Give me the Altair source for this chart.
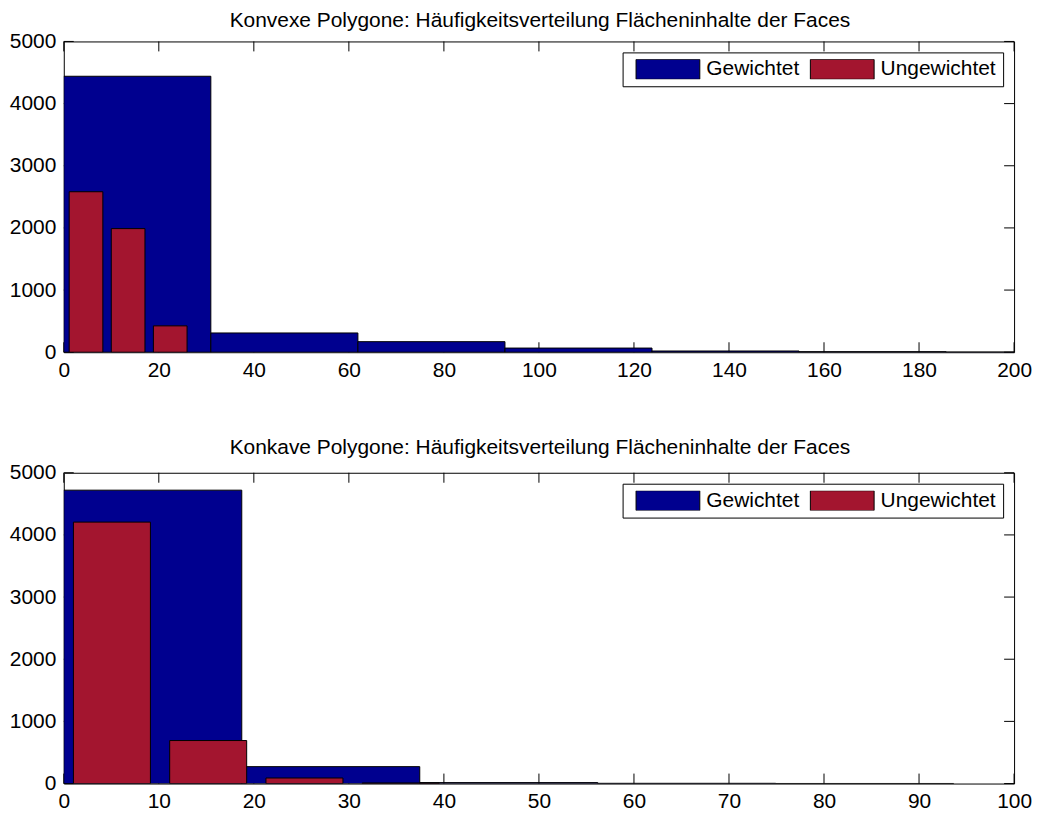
import altair as alt
import pandas as pd

BLUE = "#00008F"
RED = "#A3152F"
FONT = "Liberation Sans"
FS = 21

series = ["Gewichtet", "Ungewichtet"]

top_title = "Konvexe Polygone: Häufigkeitsverteilung Flächeninhalte der Faces"
bot_title = "Konkave Polygone: Häufigkeitsverteilung Flächeninhalte der Faces"

# top panel (convex)
top_blue_start = 0.0
top_blue_width = 30.95
top_blue_counts = [4440, 310, 170, 67, 20, 9, 3]
top_red_start = 0.25
top_red_width = 8.86
top_red_counts = [2582, 1989, 424]
top_xticks = [0, 20, 40, 60, 80, 100, 120, 140, 160, 180, 200]
top_xmax = 200

# bottom panel (concave)
bot_blue_start = 0.0
bot_blue_width = 18.73
bot_blue_counts = [4720, 272, 15, 4, 1]
bot_red_start = 0.0
bot_red_width = 10.13
bot_red_counts = [4206, 692, 89, 10]
bot_xticks = [0, 10, 20, 30, 40, 50, 60, 70, 80, 90, 100]
bot_xmax = 100

yticks = [0, 1000, 2000, 3000, 4000, 5000]
ymax = 5000

W = 954
H = 312
TICK = 10
RED_FRAC = 0.8


def bars_frame(b_start, b_w, b_counts, r_start, r_w, r_counts):
    rows = []
    for i, c in enumerate(b_counts):
        lo = b_start + i * b_w
        rows.append({"series": series[0], "x0": lo, "x1": lo + b_w, "count": c, "base": 0})
    for i, c in enumerate(r_counts):
        mid = r_start + (i + 0.5) * r_w
        rows.append({"series": series[1], "x0": mid - RED_FRAC * r_w / 2,
                     "x1": mid + RED_FRAC * r_w / 2, "count": c, "base": 0})
    return pd.DataFrame(rows)


def panel(title, title_gap, b_start, b_w, b_counts, r_start, r_w, r_counts, xticks, xmax):
    df = bars_frame(b_start, b_w, b_counts, r_start, r_w, r_counts)
    xs = alt.Scale(domain=[0, xmax], nice=False, zero=False)
    ys = alt.Scale(domain=[0, ymax], nice=False)
    xt = pd.DataFrame({"t": xticks})
    yt = pd.DataFrame({"t": yticks})

    xaxis = alt.Axis(values=xticks, ticks=False, domain=False, grid=False,
                     labelPadding=7, labelFont=FONT, labelFontSize=FS,
                     labelColor="black", format="d", labelFlush=False, title=None)
    yaxis = alt.Axis(values=yticks, ticks=False, domain=False, grid=False,
                     labelPadding=8, labelFont=FONT, labelFontSize=FS,
                     labelColor="black", format="d", labelFlush=False, title=None)

    xtick_bottom = alt.Chart(xt).mark_rule(color="black", strokeWidth=1).encode(
        x=alt.X("t:Q", scale=xs, axis=xaxis), y=alt.value(H), y2=alt.value(H - TICK))
    xtick_top = alt.Chart(xt).mark_rule(color="black", strokeWidth=1).encode(
        x=alt.X("t:Q", scale=xs, axis=xaxis), y=alt.value(0), y2=alt.value(TICK))
    ytick_left = alt.Chart(yt).mark_rule(color="black", strokeWidth=1).encode(
        y=alt.Y("t:Q", scale=ys, axis=yaxis), x=alt.value(0), x2=alt.value(TICK))
    ytick_right = alt.Chart(yt).mark_rule(color="black", strokeWidth=1).encode(
        y=alt.Y("t:Q", scale=ys, axis=yaxis), x=alt.value(W - TICK), x2=alt.value(W))

    legend = alt.Legend(
        title=None, orient="top-right", direction="horizontal",
        symbolType="M-1,-0.3125H1V0.3125H-1Z", symbolSize=4096,
        symbolStrokeColor="black", symbolStrokeWidth=1, symbolOpacity=1,
        symbolOffset=6,
        clipHeight=20, labelFont=FONT, labelFontSize=FS, labelColor="black",
        labelOffset=6, columnPadding=4, padding=7,
        strokeColor="black", fillColor="white", offset=11,
    )

    bars = alt.Chart(df).mark_rect(stroke="black", strokeWidth=1, clip=True, opacity=1).encode(
        x=alt.X("x0:Q", scale=xs, axis=xaxis),
        x2="x1:Q",
        y=alt.Y("count:Q", scale=ys, axis=yaxis),
        y2="base:Q",
        color=alt.Color("series:N", scale=alt.Scale(domain=series, range=[BLUE, RED]),
                        legend=legend),
    )

    title_mark = alt.Chart(pd.DataFrame({"title": [title]})).mark_text(
        font=FONT, fontSize=FS, color="black", align="center", baseline="alphabetic"
    ).encode(text="title:N", x=alt.value(W / 2 + 1), y=alt.value(-title_gap))

    return alt.layer(xtick_bottom, xtick_top, ytick_left, ytick_right, bars,
                     title_mark).properties(width=W, height=H)


top = panel(top_title, 14, top_blue_start, top_blue_width, top_blue_counts,
            top_red_start, top_red_width, top_red_counts, top_xticks, top_xmax)
bot = panel(bot_title, 19, bot_blue_start, bot_blue_width, bot_blue_counts,
            bot_red_start, bot_red_width, bot_red_counts, bot_xticks, bot_xmax)

chart = alt.vconcat(top, bot, spacing=55).resolve_scale(
    color="independent", x="independent", y="independent"
).resolve_legend(color="independent").properties(
    padding={"left": 0, "top": 0, "right": 0, "bottom": 0},
    background="white",
).configure_view(stroke="black", strokeWidth=1)

chart.save("out.html", embed_options={"renderer": "svg", "actions": False})
